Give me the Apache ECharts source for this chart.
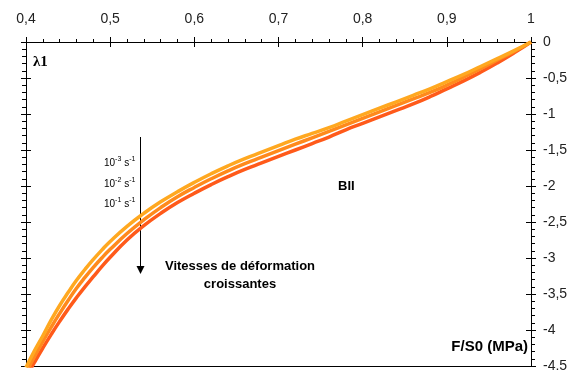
<!DOCTYPE html>
<html>
<head>
<meta charset="utf-8">
<script src="https://cdn.jsdelivr.net/npm/echarts@6/dist/echarts.min.js"></script>
<style>
html,body{margin:0;padding:0;background:#fff;}
#chart{width:579px;height:370px;}
</style>
</head>
<body>
<div id="chart"></div>
<script>
// ---- data ----
var xs   = [0.40,0.41,0.42,0.43,0.44,0.45,0.46,0.47,0.48,0.49,0.50,0.52,0.54,0.56,0.58,0.60,0.62,0.64,0.66,0.68,0.70,0.72,0.74,0.76,0.78,0.80,0.82,0.84,0.86,0.88,0.90,0.92,0.94,0.96,0.98,1.00];
// 10^-3 s^-1
var yRate3 = [-4.52,-4.29,-4.08,-3.86,-3.66,-3.48,-3.31,-3.16,-3.02,-2.89,-2.77,-2.56,-2.38,-2.22,-2.08,-1.95,-1.83,-1.72,-1.62,-1.53,-1.44,-1.35,-1.27,-1.19,-1.10,-1.01,-0.92,-0.83,-0.74,-0.65,-0.55,-0.45,-0.34,-0.23,-0.12,0];
// 10^-2 s^-1
var yRate2 = [-4.60,-4.37,-4.16,-3.96,-3.77,-3.59,-3.42,-3.27,-3.13,-3.00,-2.88,-2.66,-2.47,-2.30,-2.15,-2.02,-1.90,-1.79,-1.69,-1.60,-1.51,-1.42,-1.33,-1.24,-1.15,-1.06,-0.97,-0.88,-0.79,-0.70,-0.60,-0.49,-0.37,-0.25,-0.13,0];
// 10^-1 s^-1
var yRate1 = [-4.66,-4.45,-4.25,-4.06,-3.88,-3.71,-3.55,-3.40,-3.26,-3.12,-2.99,-2.75,-2.55,-2.38,-2.23,-2.10,-1.98,-1.87,-1.77,-1.68,-1.59,-1.50,-1.41,-1.32,-1.22,-1.13,-1.04,-0.95,-0.86,-0.76,-0.65,-0.54,-0.42,-0.29,-0.15,0];
var rateLabels = [['10','-3',' s','-1'],['10','-2',' s','-1'],['10','-1',' s','-1']];
var xMin = 0.4, xMax = 1, xStep = 0.1;
var yMin = -4.5, yMax = 0, yStep = 0.5;

function pairs(ys){ return xs.map(function(x,i){ return [x, ys[i]]; }); }
function fmt(v){ var s = String(+(+v).toFixed(1)); if (s === '-0') s = '0'; return s.replace('.', ','); }

var FONT = '"Liberation Sans", Arial, sans-serif';
var chart = echarts.init(document.getElementById('chart'), null, {renderer:'canvas'});

function xAx(pos, inside, labels, ticks){
  return {
    type:'value', position:pos, min:xMin, max:xMax, interval:xStep,
    axisLine:{show:true, onZero:false, lineStyle:{color:'#000', width:1}},
    axisTick:{show:ticks, inside:inside, length:5, lineStyle:{color:'#000'}},
    minorTick:{show:ticks && !inside, splitNumber:5, length:3, lineStyle:{color:'#000'}},
    axisLabel:{show:labels, formatter:fmt, color:'#222', fontSize:14, fontFamily:FONT, margin:16, showMinLabel:true, showMaxLabel:true},
    splitLine:{show:false}, minorSplitLine:{show:false}
  };
}
function yAx(pos, inside, labels){
  return {
    type:'value', position:pos, min:yMin, max:yMax, interval:yStep,
    axisLine:{show:true, onZero:false, lineStyle:{color:'#000', width:1}},
    axisTick:{show:true, inside:inside, length:5, lineStyle:{color:'#000'}},
    minorTick:{show:!inside, splitNumber:5, length:4, lineStyle:{color:'#000'}},
    axisLabel:{show:labels, formatter:fmt, color:'#222', fontSize:14, fontFamily:FONT, margin:12, align:'left', showMinLabel:true, showMaxLabel:true},
    splitLine:{show:false}, minorSplitLine:{show:false}
  };
}

function rateText(parts, y){
  return {
    type:'text', left:104, top:y,
    style:{
      text:'{b|'+parts[0]+'}{s|'+parts[1]+'}{b|'+parts[2]+'}{s|'+parts[3]+'}',
      rich:{
        b:{fontSize:10, fontFamily:FONT, fill:'#000', lineHeight:12, verticalAlign:'bottom'},
        s:{fontSize:7, fontFamily:FONT, fill:'#000', lineHeight:8, verticalAlign:'top'}
      }
    }
  };
}

var option = {
  animation:false,
  backgroundColor:'#fff',
  grid:{left:26, top:42, width:505, height:324, show:false, containLabel:false, outerBoundsMode:'none'},
  xAxis:[xAx('top',false,true,true), xAx('top',true,false,true), xAx('bottom',false,false,false)],
  yAxis:[yAx('right',false,true), yAx('right',true,false), yAx('left',false,false), yAx('left',true,false)],
  series:[
    {name:'10-1 s-1', type:'line', data:pairs(yRate1), showSymbol:false, smooth:0.5, clip:true,
     lineStyle:{color:'#FF5A1A', width:3.5}, itemStyle:{color:'#FF5A1A'}},
    {name:'10-2 s-1', type:'line', data:pairs(yRate2), showSymbol:false, smooth:0.5, clip:true,
     lineStyle:{color:'#FF8A1C', width:3.5}, itemStyle:{color:'#FF8A1C'}},
    {name:'10-3 s-1', type:'line', data:pairs(yRate3), showSymbol:false, smooth:0.5, clip:true,
     lineStyle:{color:'#FFA820', width:3.5}, itemStyle:{color:'#FFA820'}}
  ],
  graphic:[
    {type:'text', left:33, top:55, style:{text:'λ1', font:'bold 15px "Liberation Serif", "Times New Roman", serif', fill:'#000'}},
    {type:'text', right:51, top:339, style:{text:'F/S0 (MPa)', font:'bold 15px '+FONT, fill:'#000'}},
    {type:'text', left:338, top:180, style:{text:'BII', font:'bold 13px '+FONT, fill:'#000'}},
    rateText(rateLabels[0], 156),
    rateText(rateLabels[1], 177),
    rateText(rateLabels[2], 197),
    {type:'line', shape:{x1:140.5, y1:137, x2:140.5, y2:267}, style:{stroke:'#000', lineWidth:1}},
    {type:'polygon', shape:{points:[[136.5,266],[144.5,266],[140.5,274]]}, style:{fill:'#000'}},
    {type:'text', x:240, y:260, style:{text:'Vitesses de déformation', font:'bold 13px '+FONT, fill:'#000', textAlign:'center'}},
    {type:'text', x:240, y:278, style:{text:'croissantes', font:'bold 13px '+FONT, fill:'#000', textAlign:'center'}}
  ]
};
chart.setOption(option);
</script>
</body>
</html>
